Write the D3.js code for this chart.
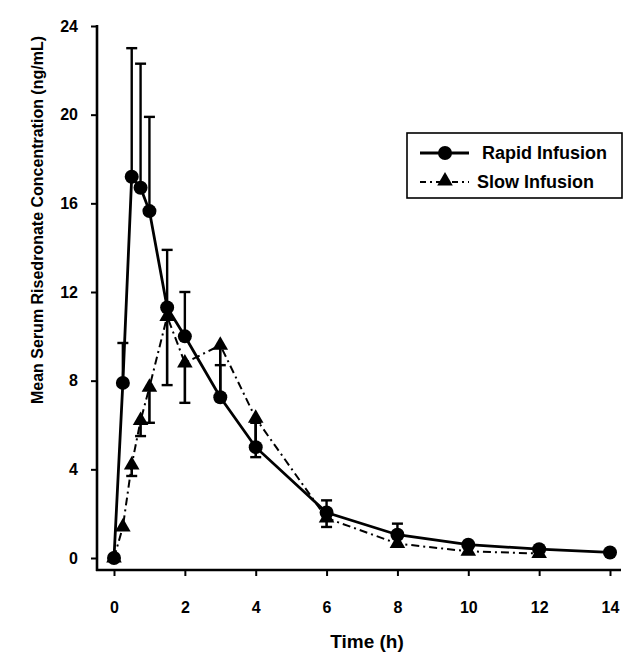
<!DOCTYPE html>
<html>
<head>
<meta charset="utf-8">
<script src="https://cdn.jsdelivr.net/npm/d3@7"></script>
<style>
  body { margin: 0; background: #fff; }
  svg { display: block; }
  text { font-family: "Liberation Sans", Arial, Helvetica, sans-serif; font-weight: bold; fill: #000; }
</style>
</head>
<body>
<div id="chart"></div>
<script>
// ---- data ----
const rapidTime  = [0, 0.25, 0.5, 0.75, 1, 1.5, 2, 3, 4, 6, 8, 10, 12, 14];
const rapidMean  = [0, 7.9, 17.2, 16.7, 15.65, 11.3, 10.0, 7.25, 5.0, 2.05, 1.05, 0.6, 0.4, 0.25];
const rapidUpper = [null, 9.7, 23.0, 22.3, 19.9, 13.9, 12.0, 8.7, 6.1, 2.6, 1.55, null, null, null];

const slowTime  = [0, 0.25, 0.5, 0.75, 1, 1.5, 2, 3, 4, 6, 8, 10, 12];
const slowMean  = [0, 1.4, 4.2, 6.2, 7.7, 10.9, 8.8, 9.6, 6.3, 1.8, 0.65, 0.3, 0.2];
const slowLower = [null, null, 3.7, 5.5, 6.1, 7.8, 7.0, 7.1, 4.55, 1.4, null, null, null];

const xTicks = [0, 2, 4, 6, 8, 10, 12, 14];
const yTicks = [0, 4, 8, 12, 16, 20, 24];
const seriesNames = ["Rapid Infusion", "Slow Infusion"];
const xTitle = "Time (h)";
const yTitle = "Mean Serum Risedronate Concentration (ng/mL)";

// ---- layout ----
const W = 636, H = 654;
const svg = d3.select("#chart").append("svg").attr("width", W).attr("height", H);

const x = d3.scaleLinear().domain([0, 14]).range([114, 610]);
const y = d3.scaleLinear().domain([0, 24]).range([558, 26]);
const axisX = 97, axisY = 570;

// axis frame lines
svg.append("line").attr("x1", axisX).attr("x2", axisX).attr("y1", y(24) - 1).attr("y2", axisY + 1)
  .attr("stroke", "#000").attr("stroke-width", 2.6);
svg.append("line").attr("x1", axisX - 1).attr("x2", 621).attr("y1", axisY).attr("y2", axisY)
  .attr("stroke", "#000").attr("stroke-width", 2.6);

// y axis
const gy = svg.append("g").attr("transform", `translate(${axisX},0)`)
  .call(d3.axisLeft(y).tickValues(yTicks).tickFormat(d3.format("d")).tickSize(6).tickPadding(13));
gy.select(".domain").remove();
gy.selectAll(".tick line").attr("stroke", "#000").attr("stroke-width", 2);
gy.selectAll(".tick text").style("font-size", "16px").style("font-family", null);

// x axis
const gx = svg.append("g").attr("transform", `translate(0,${axisY})`)
  .call(d3.axisBottom(x).tickValues(xTicks).tickFormat(d3.format("d")).tickSize(6).tickPadding(26));
gx.select(".domain").remove();
gx.selectAll(".tick line").attr("stroke", "#000").attr("stroke-width", 2);
gx.selectAll(".tick text").style("font-size", "16px").style("font-family", null);

// titles
svg.append("text").attr("transform", "translate(43,220) rotate(-90)")
  .attr("text-anchor", "middle").style("font-size", "16px").text(yTitle);
svg.append("text").attr("x", 367).attr("y", 648)
  .attr("text-anchor", "middle").style("font-size", "19px").text(xTitle);

const rapid = rapidTime.map((t, i) => ({ t, v: rapidMean[i], e: rapidUpper[i] }));
const slow  = slowTime.map((t, i) => ({ t, v: slowMean[i], e: slowLower[i] }));

const line = d3.line().x(d => x(d.t)).y(d => y(d.v));
const triPath = d3.symbol().type(d3.symbolTriangle).size(105);
const dashDot = "8,4,2,4";

// ---- slow infusion (drawn first) ----
const gs = svg.append("g");
gs.append("path").datum(slow).attr("d", line).attr("fill", "none")
  .attr("stroke", "#000").attr("stroke-width", 2).attr("stroke-dasharray", dashDot);
const se = gs.selectAll(".se").data(slow.filter(d => d.e != null)).enter().append("g");
se.append("line").attr("x1", d => x(d.t)).attr("x2", d => x(d.t))
  .attr("y1", d => y(d.v)).attr("y2", d => y(d.e)).attr("stroke", "#000").attr("stroke-width", 2.6);
se.append("line").attr("x1", d => x(d.t) - 5.5).attr("x2", d => x(d.t) + 5.5)
  .attr("y1", d => y(d.e)).attr("y2", d => y(d.e)).attr("stroke", "#000").attr("stroke-width", 2.4);
gs.selectAll(".tri").data(slow).enter().append("path")
  .attr("d", triPath).attr("transform", d => `translate(${x(d.t)},${y(d.v)})`).attr("fill", "#000");

// ---- rapid infusion ----
const gr = svg.append("g");
gr.append("path").datum(rapid).attr("d", line).attr("fill", "none")
  .attr("stroke", "#000").attr("stroke-width", 2.8);
const re = gr.selectAll(".re").data(rapid.filter(d => d.e != null)).enter().append("g");
re.append("line").attr("x1", d => x(d.t)).attr("x2", d => x(d.t))
  .attr("y1", d => y(d.v)).attr("y2", d => y(d.e)).attr("stroke", "#000").attr("stroke-width", 2.4);
re.append("line").attr("x1", d => x(d.t) - 5.5).attr("x2", d => x(d.t) + 5.5)
  .attr("y1", d => y(d.e)).attr("y2", d => y(d.e)).attr("stroke", "#000").attr("stroke-width", 2.4);
gr.selectAll(".dot").data(rapid).enter().append("circle")
  .attr("cx", d => x(d.t)).attr("cy", d => y(d.v)).attr("r", 7).attr("fill", "#000");

// ---- legend ----
const lg = svg.append("g");
lg.append("rect").attr("x", 407).attr("y", 133).attr("width", 215).attr("height", 65)
  .attr("fill", "#fff").attr("stroke", "#000").attr("stroke-width", 1.6);
lg.append("line").attr("x1", 420).attr("x2", 469).attr("y1", 153).attr("y2", 153)
  .attr("stroke", "#000").attr("stroke-width", 2.8);
lg.append("circle").attr("cx", 445).attr("cy", 153).attr("r", 7).attr("fill", "#000");
lg.append("text").attr("x", 482).attr("y", 159).style("font-size", "18px").text(seriesNames[0]);
lg.append("line").attr("x1", 420).attr("x2", 469).attr("y1", 182).attr("y2", 182)
  .attr("stroke", "#000").attr("stroke-width", 2).attr("stroke-dasharray", "6,4,2,4");
lg.append("path").attr("d", triPath).attr("transform", "translate(445,181)").attr("fill", "#000");
lg.append("text").attr("x", 477).attr("y", 188).style("font-size", "18px").text(seriesNames[1]);
</script>
</body>
</html>
